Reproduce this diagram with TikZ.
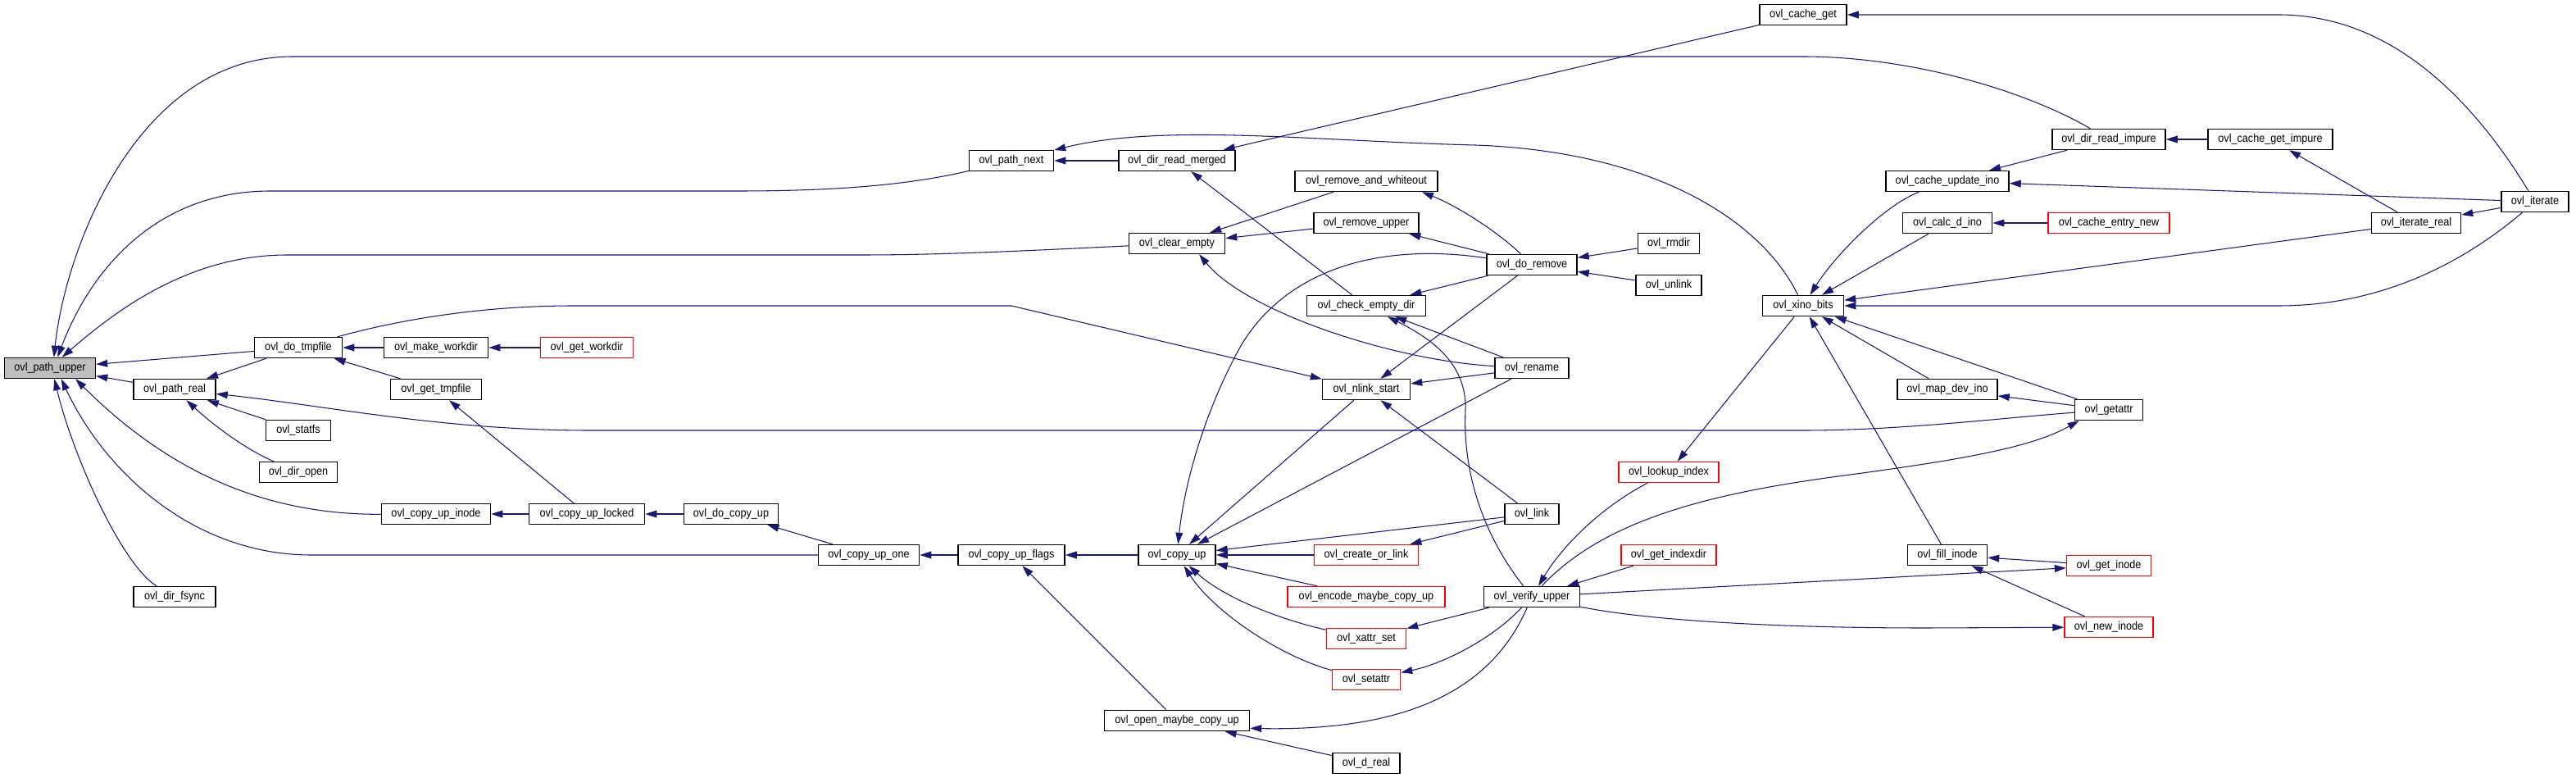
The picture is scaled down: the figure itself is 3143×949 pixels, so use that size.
\documentclass[tikz,border=0pt]{standalone}
\usepackage{fontspec}
\usetikzlibrary{arrows.meta}
\newfontfamily\dxfont[FakeStretch=0.9]{Liberation Sans}
\definecolor{edgeblue}{HTML}{191970}
\definecolor{rootgray}{HTML}{BFBFBF}

\begin{document}
\begin{tikzpicture}[x=0.02cm,y=-0.02cm,>={Triangle[length=8pt,width=5pt]},
        fn/.style={draw=black, line width=0.8pt, rectangle, fill=white, minimum height=0.5cm, inner sep=1pt, font=\dxfont\fontsize{8}{9}\selectfont},
        trunc/.style={fn, draw=red},
        call/.style={->, draw=edgeblue, line width=0.6pt}]
        \useasboundingbox (0,0) rectangle (3143,949);

        \node (pu) [fn, fill=rootgray, minimum width=2.22cm] at (61,449) {ovl\_path\_upper};
        \node (pr) [fn, minimum width=2.0cm] at (213,475) {ovl\_path\_real};
        \node (dfs) [fn, minimum width=2.0cm] at (213,728) {ovl\_dir\_fsync};
        \node (dt) [fn, minimum width=2.14cm] at (364,424) {ovl\_do\_tmpfile};
        \node (sfs) [fn, minimum width=1.58cm] at (364,525) {ovl\_statfs};
        \node (dop) [fn, minimum width=1.9cm] at (364,576) {ovl\_dir\_open};
        \node (mw) [fn, minimum width=2.54cm] at (532,424) {ovl\_make\_workdir};
        \node (gtf) [fn, minimum width=2.22cm] at (532,475) {ovl\_get\_tmpfile};
        \node (cui) [fn, minimum width=2.66cm] at (532,627) {ovl\_copy\_up\_inode};
        \node (gw) [trunc, minimum width=2.26cm] at (716,424) {ovl\_get\_workdir};
        \node (cul) [fn, minimum width=2.82cm] at (716,627) {ovl\_copy\_up\_locked};
        \node (dcu) [fn, minimum width=2.3cm] at (892,627) {ovl\_do\_copy\_up};
        \node (cuo) [fn, minimum width=2.46cm] at (1060,677) {ovl\_copy\_up\_one};
        \node (pn) [fn, minimum width=2.06cm] at (1234,196) {ovl\_path\_next};
        \node (cuf) [fn, minimum width=2.6cm] at (1234,677) {ovl\_copy\_up\_flags};
        \node (drm) [fn, minimum width=2.84cm] at (1436,196) {ovl\_dir\_read\_merged};
        \node (ce) [fn, minimum width=2.34cm] at (1436,297) {ovl\_clear\_empty};
        \node (cu) [fn, minimum width=1.88cm] at (1436,677) {ovl\_copy\_up};
        \node (omc) [fn, minimum width=3.54cm] at (1436,879) {ovl\_open\_maybe\_copy\_up};

        \node (raw) [fn, minimum width=3.48cm] at (1667,221) {ovl\_remove\_and\_whiteout};
        \node (ru) [fn, minimum width=2.56cm] at (1667,272) {ovl\_remove\_upper};
        \node (ced) [fn, minimum width=2.9cm] at (1667,373) {ovl\_check\_empty\_dir};
        \node (ns) [fn, minimum width=2.14cm] at (1667,475) {ovl\_nlink\_start};
        \node (col) [trunc, minimum width=2.54cm] at (1667,677) {ovl\_create\_or\_link};
        \node (emc) [trunc, minimum width=3.84cm] at (1667,728) {ovl\_encode\_maybe\_copy\_up};
        \node (xs) [trunc, minimum width=1.94cm] at (1667,779) {ovl\_xattr\_set};
        \node (sa) [trunc, minimum width=1.66cm] at (1667,829) {ovl\_setattr};
        \node (drl) [fn, minimum width=1.64cm] at (1667,931) {ovl\_d\_real};
        \node (dr) [fn, minimum width=2.2cm] at (1869,323) {ovl\_do\_remove};
        \node (rn) [fn, minimum width=1.8cm] at (1869,449) {ovl\_rename};
        \node (lk) [fn, minimum width=1.32cm] at (1869,627) {ovl\_link};
        \node (vu) [fn, minimum width=2.34cm] at (1869,728) {ovl\_verify\_upper};
        \node (rmd) [fn, minimum width=1.5cm] at (2036,297) {ovl\_rmdir};
        \node (ul) [fn, minimum width=1.6cm] at (2036,348) {ovl\_unlink};
        \node (li) [trunc, minimum width=2.44cm] at (2036,576) {ovl\_lookup\_index};
        \node (gid) [trunc, minimum width=2.32cm] at (2036,677) {ovl\_get\_indexdir};

        \node (cg) [fn, minimum width=2.12cm] at (2200,18) {ovl\_cache\_get};
        \node (xb) [fn, minimum width=1.98cm] at (2200,373) {ovl\_xino\_bits};
        \node (cun) [fn, minimum width=3.0cm] at (2376,221) {ovl\_cache\_update\_ino};
        \node (cdi) [fn, minimum width=2.18cm] at (2376,272) {ovl\_calc\_d\_ino};
        \node (mdi) [fn, minimum width=2.44cm] at (2376,475) {ovl\_map\_dev\_ino};
        \node (fi) [fn, minimum width=1.94cm] at (2376,677) {ovl\_fill\_inode};
        \node (dri) [fn, minimum width=2.76cm] at (2573,170) {ovl\_dir\_read\_impure};
        \node (cen) [trunc, minimum width=2.96cm] at (2573,272) {ovl\_cache\_entry\_new};
        \node (ga) [fn, minimum width=1.66cm] at (2573,500) {ovl\_getattr};
        \node (gin) [trunc, minimum width=2.06cm] at (2573,690) {ovl\_get\_inode};
        \node (nin) [trunc, minimum width=2.16cm] at (2573,765) {ovl\_new\_inode};
        \node (cgi) [fn, minimum width=3.04cm] at (2770,170) {ovl\_cache\_get\_impure};
        \node (itr) [fn, minimum width=2.18cm] at (2948,272) {ovl\_iterate\_real};
        \node (it) [fn, minimum width=1.64cm] at (3093,246) {ovl\_iterate};

        \draw[call] (dri) .. controls (2470,110) and (2330,69) .. (2200,69) -- (357,69) .. controls (170,69) and (80,300) .. (pu.70);
        \draw[call] (pn) .. controls (1100,228) and (1000,233) .. (900,233) -- (330,233) .. controls (190,233) and (110,330) .. (pu.55);
        \draw[call] (ce) .. controls (1250,306) and (1150,311) .. (1050,311) -- (350,311) .. controls (230,311) and (140,380) .. (pu.42);
        \draw[call] (dt) -- (pu);
        \draw[call] (pr) -- (pu);
        \draw[call] (cui) .. controls (330,628) and (210,580) .. (pu.-23);
        \draw[call] (cuo) -- (380,677) .. controls (240,677) and (130,580) .. (pu.-44);
        \draw[call] (dfs) .. controls (150,690) and (90,560) .. (pu.-68);

        \draw[call] (mw) -- (dt);
        \draw[call] (gw) -- (mw);
        \draw[call] (dt) -- (pr);
        \draw[call] (gtf) -- (dt);
        \draw[call] (dt) .. controls (480,392) and (580,373) .. (700,373) -- (1234,373) -- (ns);
        \draw[call] (sfs) -- (pr);
        \draw[call] (dop) .. controls (300,548) and (262,520) .. (pr);
        \draw[call] (ga) .. controls (2440,510) and (2320,525) .. (2200,525) -- (720,525) .. controls (540,525) and (400,495) .. (pr);
        \draw[call] (cul) -- (gtf);
        \draw[call] (cul) -- (cui);
        \draw[call] (dcu) -- (cul);
        \draw[call] (cuo) -- (dcu);
        \draw[call] (cuf) -- (cuo);
        \draw[call] (cu) -- (cuf);
        \draw[call] (omc) -- (cuf);

        \draw[call] (drm) -- (pn);
        \draw[call] (xb) .. controls (2150,270) and (2020,185) .. (1800,177) .. controls (1600,172) and (1420,150) .. (pn);
        \draw[call] (cg) -- (drm);
        \draw[call] (ced) -- (drm);
        \draw[call] (raw) -- (ce);
        \draw[call] (ru) -- (ce);
        \draw[call] (rn) .. controls (1700,440) and (1520,380) .. (ce.-26);
        \draw[call] (dr) .. controls (1680,295) and (1570,330) .. (1515,420) .. controls (1470,500) and (1445,590) .. (cu);
        \draw[call] (ns) -- (cu);
        \draw[call] (rn) -- (cu);
        \draw[call] (lk) -- (cu);
        \draw[call] (col) -- (cu);
        \draw[call] (emc) -- (cu);
        \draw[call] (xs) .. controls (1580,760) and (1500,735) .. (cu);
        \draw[call] (sa) .. controls (1560,800) and (1480,745) .. (cu);
        \draw[call] (vu) .. controls (1820,840) and (1720,892) .. (omc.-6);
        \draw[call] (drl) -- (omc);

        \draw[call] (it) .. controls (3010,110) and (2910,18) .. (2780,18) -- (cg);
        \draw[call] (dr) .. controls (1830,285) and (1780,252) .. (raw.-11);
        \draw[call] (dr) -- (ru);
        \draw[call] (rmd) -- (dr);
        \draw[call] (ul) -- (dr);
        \draw[call] (dr) -- (ced);
        \draw[call] (dr) -- (ns);
        \draw[call] (rn) -- (ced);
        \draw[call] (rn) -- (ns);
        \draw[call] (vu) .. controls (1800,640) and (1785,560) .. (1788,500) .. controls (1790,440) and (1740,410) .. (ced);
        \draw[call] (lk) -- (ns);
        \draw[call] (lk) -- (col);

        \draw[call] (cun) .. controls (2300,250) and (2240,310) .. (xb);
        \draw[call] (cdi) -- (xb);
        \draw[call] (itr) -- (xb);
        \draw[call] (it) .. controls (3000,325) and (2900,373) .. (2780,373) -- (xb);
        \draw[call] (ga) -- (xb);
        \draw[call] (mdi) -- (xb);
        \draw[call] (fi) -- (xb);
        \draw[call] (xb) -- (li);
        \draw[call] (li) .. controls (1960,615) and (1910,660) .. (vu);
        \draw[call] (vu) .. controls (1960,630) and (2100,600) .. (2250,580) .. controls (2400,560) and (2480,545) .. (ga.-160);
        \draw[call] (gid) -- (vu);
        \draw[call] (vu) -- (gin);
        \draw[call] (vu) .. controls (2000,755) and (2150,766) .. (2350,766) -- (nin);
        \draw[call] (vu) -- (xs);
        \draw[call] (vu) .. controls (1820,780) and (1760,810) .. (sa);

        \draw[call] (cgi) -- (dri);
        \draw[call] (dri) -- (cun);
        \draw[call] (it) -- (cun);
        \draw[call] (cen) -- (cdi);
        \draw[call] (itr) -- (cgi);
        \draw[call] (it) -- (itr);
        \draw[call] (ga) -- (mdi);
        \draw[call] (gin) -- (fi);
        \draw[call] (nin) -- (fi);
    \end{tikzpicture}
\end{document}
